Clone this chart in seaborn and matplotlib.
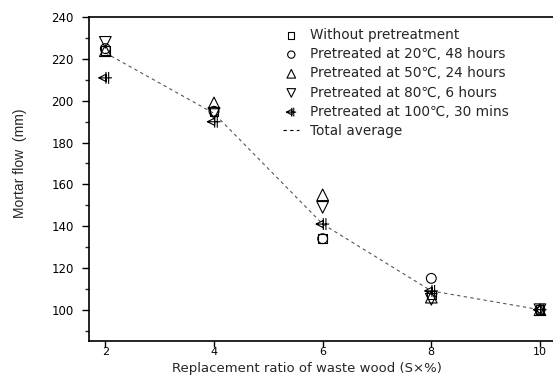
import numpy as np
import pandas as pd
import matplotlib
matplotlib.use("Agg")
import matplotlib.pyplot as plt
from matplotlib.path import Path
import seaborn as sns

sns.set_theme(style="ticks")
plt.rcParams['font.family'] = ['DejaVu Sans']

ratio = [2, 4, 6, 8, 10]
without_pre = [224, 195, 134, 107, 100]
pre_20c_48h = [225, 195, 134, 115, 100]
pre_50c_24h = [224, 199, 155, 106, 100]
pre_80c_6h = [228, 194, 149, 105, 100]
pre_100c_30m = [211, 190, 141, 109, 100]
total_average = [223, 194, 141, 109, 100]

series_names = ["Without pretreatment", "Pretreated at 20\u2103, 48 hours",
                "Pretreated at 50\u2103, 24 hours", "Pretreated at 80\u2103, 6 hours",
                "Pretreated at 100\u2103, 30 mins"]
series_values = [without_pre, pre_20c_48h, pre_50c_24h, pre_80c_6h, pre_100c_30m]

# custom marker: left triangle with double cross
verts = [(-1.0, 0.0), (0.1, 0.55), (0.1, -0.55), (-1.0, 0.0),
         (-1.0, 0.0), (1.0, 0.0),
         (0.1, 0.9), (0.1, -0.9),
         (0.5, 0.9), (0.5, -0.9)]
codes = [Path.MOVETO, Path.LINETO, Path.LINETO, Path.CLOSEPOLY,
         Path.MOVETO, Path.LINETO,
         Path.MOVETO, Path.LINETO,
         Path.MOVETO, Path.LINETO]
trix = Path(verts, codes)

markers = ['s', 'o', '^', 'v', trix]
sizes = [38, 50, 70, 70, 90]

fig = plt.figure(figsize=(5.53, 3.76), dpi=100)
ax = fig.add_axes([0.161, 0.093, 0.839, 0.861])

avg_df = pd.DataFrame({"x": ratio, "y": total_average})
sns.lineplot(data=avg_df, x="x", y="y", ax=ax, color="#555555", lw=0.8,
             linestyle=(0, (3, 3)), label=None)

handles = []
for name, vals, m, s in zip(series_names, series_values, markers, sizes):
    df = pd.DataFrame({"x": ratio, "y": vals})
    sns.scatterplot(data=df, x="x", y="y", ax=ax, marker=m, s=s,
                    facecolors='none', edgecolors='black', linewidths=0.8, zorder=3)
    h = ax.scatter([], [], marker=m, s=s * 0.55, facecolors='none',
                   edgecolors='black', linewidths=0.8, label=name)
    handles.append(h)
line_h, = ax.plot([], [], color='black', lw=0.8, linestyle=(0, (3, 3)), label="Total average")
handles.append(line_h)

ax.set_xlim(1.7, 10.24)
ax.set_ylim(85, 240)
ax.set_xticks(ratio)
ax.set_yticks([100, 120, 140, 160, 180, 200, 220, 240])
ax.set_yticks(np.arange(90, 240, 20), minor=True)
ax.tick_params(axis='both', which='major', labelsize=8.5, length=5, width=1, colors='black')
ax.tick_params(axis='y', which='major', pad=6)
ax.tick_params(axis='x', which='major', labelsize=8, length=4, pad=0.5)
ax.tick_params(axis='y', which='minor', length=3, width=1)
for sp in ['left', 'bottom', 'top']:
    ax.spines[sp].set_linewidth(1.2)
    ax.spines[sp].set_color('black')
ax.spines['right'].set_visible(False)

ax.set_xlabel("Replacement ratio of waste wood (S\u00d7%)", fontsize=9.5)
ax.xaxis.set_label_coords(0.47, -0.066)
ax.set_ylabel("Mortar flow  (mm)", fontsize=10,
              family=['Liberation Sans Narrow', 'Liberation Sans', 'DejaVu Sans'])
ax.yaxis.set_label_coords(-0.149, 0.549)
ax.yaxis.label.set_va('center')

ax.legend(handles=handles, loc='upper left', bbox_to_anchor=(0.512, 0.9255),
          bbox_transform=fig.transFigure,
          frameon=False, fontsize=9.8, handlelength=1.2, handletextpad=0.8,
          labelspacing=0.38, borderaxespad=0.0, borderpad=0.0)

fig.savefig("out.png", dpi=100)
